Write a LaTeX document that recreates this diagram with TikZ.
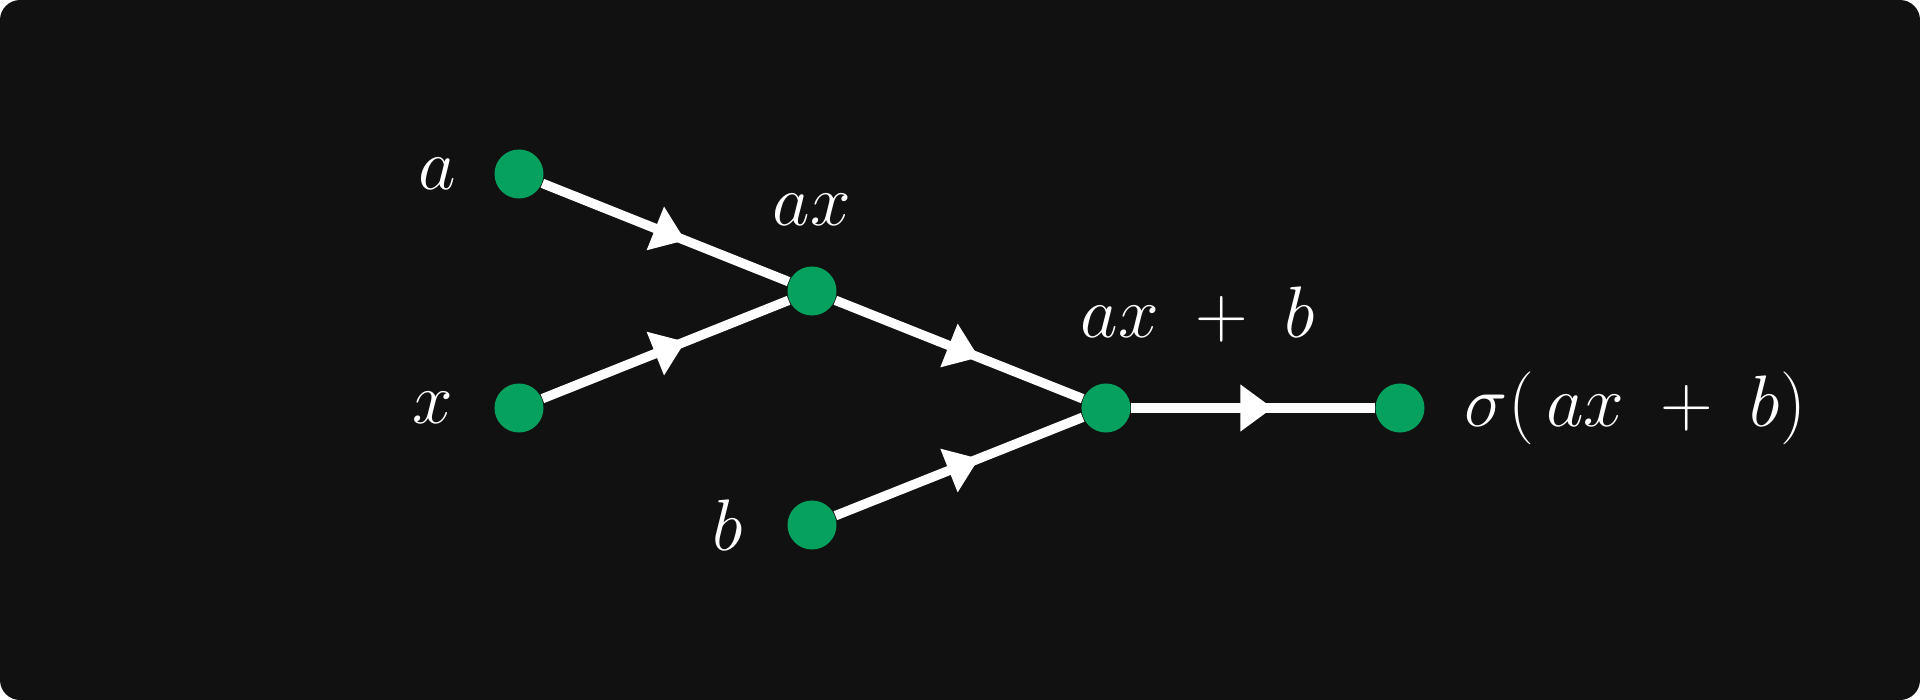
\documentclass[tikz,border=0pt]{standalone}
\usetikzlibrary{positioning,arrows.meta,decorations.markings}
\definecolor{bgdark}{HTML}{111111}
\definecolor{dotgreen}{HTML}{06A05F}
\tikzset{
  dot/.style={circle,fill=dotgreen,minimum size=4.9mm,inner sep=0pt},
  lbl/.style={text=white,inner sep=0pt,font=\fontsize{21.5}{26}\selectfont},
  flow/.style={white,line width=2.7pt,postaction={decorate},
    decoration={markings,mark=at position 0.58 with
      {\arrow{Triangle[length=3.2mm,width=4.7mm,line width=0pt]}}}}
}

\begin{document}
\begin{tikzpicture}[x=0.01cm,y=-0.01cm]

% Background panel
\fill[bgdark,rounded corners=2mm] (0,0) rectangle (1920,700);

% Inputs and operations
\node[dot] (a)   at (519,174)  {};
\node[dot] (x)   at (519,408)  {};
\node[dot] (ax)  at (812,291)  {};
\node[dot] (b)   at (812,525)  {};
\node[dot] (axb) at (1106,408) {};
\node[dot] (sig) at (1400,408) {};

% Labels
\node[lbl,left=3.7mm of a] (la) {$a$};
\node[lbl,left=4.0mm of x] (lx) {$x$};
\node[lbl,above=3.95mm of ax] (lax) {$ax$};
\node[lbl,left=4.3mm of b] (lb) {$b$};
\node[lbl,above=4.0mm of axb,anchor=south west,xshift=-2.6mm] (laxb)
  {$ax\mkern9mu{+}\mkern9mu b$};
\node[lbl,right=3.9mm of sig] (lsig)
  {$\sigma(\mkern3mu ax\mkern9mu{+}\mkern9mu b)$};

% Flow edges
\draw[flow] (a) -- (ax);
\draw[flow] (x) -- (ax);
\draw[flow] (ax) -- (axb);
\draw[flow] (b) -- (axb);
\draw[flow] (axb) -- (sig);

\end{tikzpicture}
\end{document}
